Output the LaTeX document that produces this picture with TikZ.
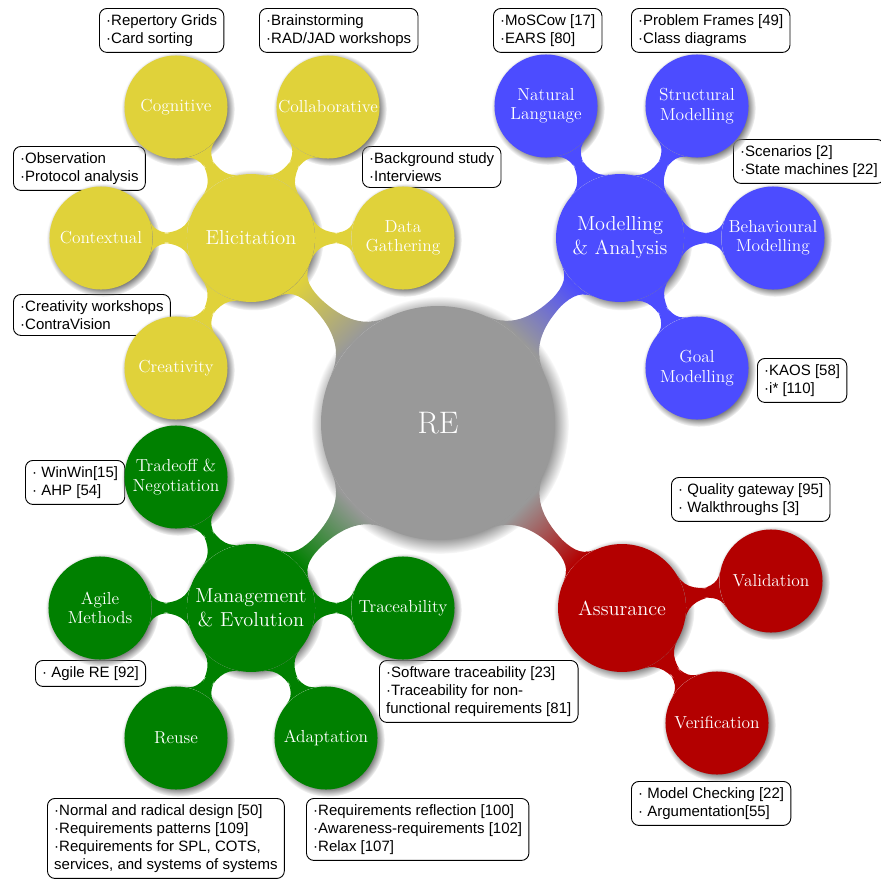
\documentclass[tikz,border=0pt]{standalone}
\usepackage{fontspec}
\setsansfont{Liberation Sans}
\usetikzlibrary{mindmap,shadows}
\definecolor{ycol}{RGB}{224,210,58}
\definecolor{bcol}{RGB}{76,76,255}
\definecolor{gcol}{RGB}{0,128,0}
\definecolor{rcol}{RGB}{179,0,0}
\definecolor{kcol}{RGB}{153,153,153}
\begin{document}
\begin{tikzpicture}[x=0.6667pt,y=-0.6667pt,
  rootc/.style={circle,fill=kcol,text=white,inner sep=0pt,minimum size=156pt,align=center,font=\fontsize{20.74}{25}\selectfont,circular drop shadow},
  lone/.style={circle,fill=#1,text=white,inner sep=0pt,minimum size=85.3pt,align=center,font=\fontsize{13.5}{16}\selectfont,circular drop shadow},
  ltwo/.style={circle,fill=#1,text=white,inner sep=0pt,minimum size=68.7pt,align=center,font=\fontsize{11.6}{12.9}\selectfont,circular drop shadow},
  annot/.style={draw=black,line width=0.6pt,rounded corners=5pt,fill=white,align=left,anchor=north west,
    font=\sffamily\fontsize{10}{12}\selectfont,inner xsep=4.5pt,inner ysep=4pt}]
\useasboundingbox (0,0) rectangle (881,883);
% annotation boxes (behind the circles)
\node[annot] (b1) at (99,8) {·Repertory Grids\\·Card sorting};
\node[annot] (b2) at (259,8) {·Brainstorming\\·RAD/JAD workshops};
\node[annot] (b3) at (493,8) {·MoSCow [17]\\·EARS [80]};
\node[annot] (b4) at (631,8) {·Problem Frames [49]\\·Class diagrams};
\node[annot] (b5) at (13,146) {·Observation\\·Protocol analysis};
\node[annot] (b6) at (362,146) {·Background study\\·Interviews};
\node[annot] (b7) at (733,139) {·Scenarios [2]\\·State machines [22]};
\node[annot] (b8) at (13,294) {·Creativity workshops\\·ContraVision};
\node[annot] (b9) at (757,358) {·KAOS [58]\\·i* [110]};
\node[annot] (b10) at (25,460) {· WinWin[15]\\· AHP [54]};
\node[annot] (b11) at (671,477) {· Quality gateway [95]\\· Walkthroughs [3]};
\node[annot] (b12) at (35,660) {· Agile RE [92]};
\node[annot] (b13) at (379,660) {·Software traceability [23]\\·Traceability for non-\\functional requirements [81]};
\node[annot] (b14) at (631,781) {· Model Checking [22]\\· Argumentation[55]};
\node[annot] (b15) at (47,798) {·Normal and radical design [50]\\·Requirements patterns [109]\\·Requirements for SPL, COTS,\\services, and systems of systems};
\node[annot] (b16) at (306,798) {·Requirements reflection [100]\\·Awareness-requirements [102]\\·Relax [107]};
% concepts
\node[rootc] (re) at (438,423) {RE};
\node[lone=ycol] (eli) at (251,238) {Elicitation};
\node[lone=bcol] (mod) at (620,238) {Modelling\\\& Analysis};
\node[lone=gcol] (man) at (251,608) {Management\\\& Evolution};
\node[lone=rcol] (ass) at (622,608) {Assurance};
\node[ltwo=ycol] (cog) at (176,107) {Cognitive};
\node[ltwo=ycol] (col) at (328,107) {Collaborative};
\node[ltwo=ycol] (con) at (101,238) {Contextual};
\node[ltwo=ycol] (dat) at (403,238) {Data\\Gathering};
\node[ltwo=ycol] (cre) at (176,368) {Creativity};
\node[ltwo=bcol] (nat) at (546,106) {Natural\\Language};
\node[ltwo=bcol] (str) at (697,106) {Structural\\Modelling};
\node[ltwo=bcol] (beh) at (773,238) {Behavioural\\Modelling};
\node[ltwo=bcol] (goa) at (697,368) {Goal\\Modelling};
\node[ltwo=gcol] (tra) at (176,477) {Tradeoff \&\\Negotiation};
\node[ltwo=gcol] (agi) at (100,608) {Agile\\Methods};
\node[ltwo=gcol] (trc) at (403,608) {Traceability};
\node[ltwo=gcol] (reu) at (176,738) {Reuse};
\node[ltwo=gcol] (ada) at (326,738) {Adaptation};
\node[ltwo=rcol] (val) at (771,581) {Validation};
\node[ltwo=rcol] (ver) at (717,723) {Verification};
% connection bars
\path (re) to[circle connection bar switch color=from (kcol) to (ycol)] (eli);
\path (re) to[circle connection bar switch color=from (kcol) to (bcol)] (mod);
\path (re) to[circle connection bar switch color=from (kcol) to (gcol)] (man);
\path (re) to[circle connection bar switch color=from (kcol) to (rcol)] (ass);
\begin{scope}[concept color=ycol]
\path (eli) to[circle connection bar] (cog);
\path (eli) to[circle connection bar] (col);
\path (eli) to[circle connection bar] (con);
\path (eli) to[circle connection bar] (dat);
\path (eli) to[circle connection bar] (cre);
\end{scope}
\begin{scope}[concept color=bcol]
\path (mod) to[circle connection bar] (nat);
\path (mod) to[circle connection bar] (str);
\path (mod) to[circle connection bar] (beh);
\path (mod) to[circle connection bar] (goa);
\end{scope}
\begin{scope}[concept color=gcol]
\path (man) to[circle connection bar] (tra);
\path (man) to[circle connection bar] (agi);
\path (man) to[circle connection bar] (trc);
\path (man) to[circle connection bar] (reu);
\path (man) to[circle connection bar] (ada);
\end{scope}
\begin{scope}[concept color=rcol]
\path (ass) to[circle connection bar] (val);
\path (ass) to[circle connection bar] (ver);
\end{scope}
\end{tikzpicture}
\end{document}
